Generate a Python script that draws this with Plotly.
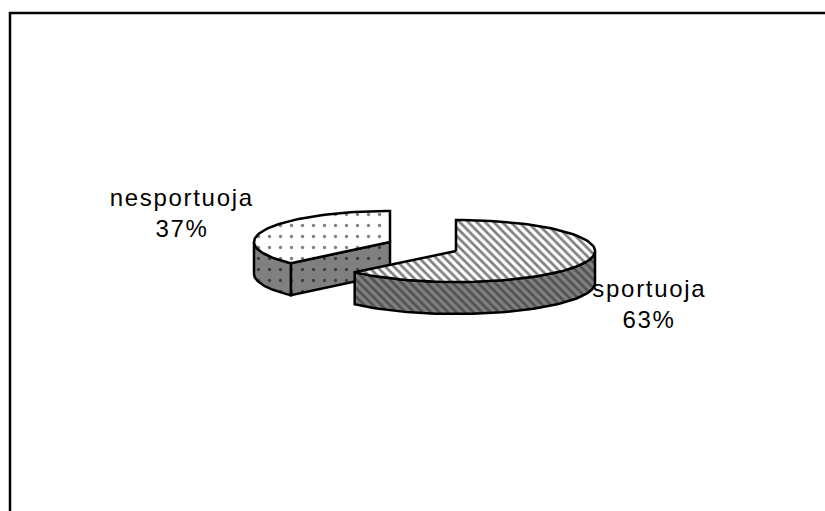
import numpy as np
import plotly.graph_objects as go

labels = ["sportuoja", "nesportuoja"]
values = [63, 37]

W, H = 825, 511
DEPTH = 32
LINE = dict(color="black", width=2.5)
# centre x, centre y, radius x, radius y of each exploded slice's top face
GEOM = {"sportuoja": (456, 251, 139, 31), "nesportuoja": (390, 242, 136, 31)}
TEXT_POS = {"sportuoja": (649, 288, 319), "nesportuoja": (182, 197, 228)}

TOP = {
    "sportuoja": dict(shape="\\", bgcolor="white", fgcolor="black", size=6, solidity=0.45),
    "nesportuoja": dict(shape=".", bgcolor="white", fgcolor="black", size=11, solidity=0.07),
}
SIDE = {
    "sportuoja": dict(shape="\\", bgcolor="#808080", fgcolor="#222", size=6, solidity=0.45),
    "nesportuoja": dict(shape=".", bgcolor="#808080", fgcolor="black", size=11, solidity=0.07),
}


def rim(g, a0, a1, dy=0, n=80):
    a = np.radians(np.linspace(a0, a1, n))
    return g[0] + g[2] * np.sin(a), g[1] - g[3] * np.cos(a) + dy


def poly(fig, x, y, pattern):
    fig.add_trace(go.Scatter(
        x=np.r_[x, x[0]], y=np.r_[y, y[0]], mode="lines", fill="toself",
        fillcolor=pattern["bgcolor"], fillpattern=pattern, line=LINE,
        hoverinfo="skip", showlegend=False))


def wall(fig, g, a0, a1, pattern):
    xt, yt = rim(g, a0, a1)
    xb, yb = rim(g, a1, a0, DEPTH)
    poly(fig, np.r_[xt, xb], np.r_[yt, yb], pattern)


fig = go.Figure()
total = sum(values)
sweep = values[0] / total * 360  # the first slice runs clockwise from 12 o'clock

# second slice, drawn first because the first overlaps it
name = labels[1]
g = GEOM[name]
cx, cy = g[0], g[1]
xc, yc = rim(g, sweep, sweep, n=1)
poly(fig, np.array([xc[0], cx, cx, xc[0]]),
     np.array([yc[0], cy, cy + DEPTH, yc[0] + DEPTH]), SIDE[name])
wall(fig, g, sweep, 270, SIDE[name])
xr, yr = rim(g, sweep, 360)
poly(fig, np.r_[cx, xr], np.r_[cy, yr], TOP[name])

# first slice
name = labels[0]
g = GEOM[name]
wall(fig, g, 90, sweep, SIDE[name])
xr, yr = rim(g, 0, sweep)
poly(fig, np.r_[g[0], xr], np.r_[g[1], yr], TOP[name])

annotations = []
for name, val in zip(labels, values):
    tx, y1, y2 = TEXT_POS[name]
    for text, ty in ((name, y1), (f"{val}%", y2)):
        annotations.append(dict(x=tx, y=ty, text=text, showarrow=False,
                                xanchor="center", yanchor="middle",
                                font=dict(family="Liberation Sans", size=24, color="black")))

fig.update_layout(
    width=W, height=H, margin=dict(l=0, r=0, t=0, b=0),
    paper_bgcolor="white", plot_bgcolor="white", showlegend=False,
    xaxis=dict(range=[0, W], visible=False, fixedrange=True),
    yaxis=dict(range=[H, 0], visible=False, fixedrange=True),
    annotations=annotations,
    shapes=[
        dict(type="line", x0=9, x1=W, y0=13, y1=13, line=dict(color="black", width=2.5)),
        dict(type="line", x0=10, x1=10, y0=12, y1=H, line=dict(color="black", width=2.5)),
    ],
)

page = ("document.body.style.margin='0';"
        "document.querySelectorAll('.annotation-text').forEach(function(t){t.style.letterSpacing='1.7px';});")
fig.write_html("out.html", post_script=page, config=dict(displayModeBar=False))
